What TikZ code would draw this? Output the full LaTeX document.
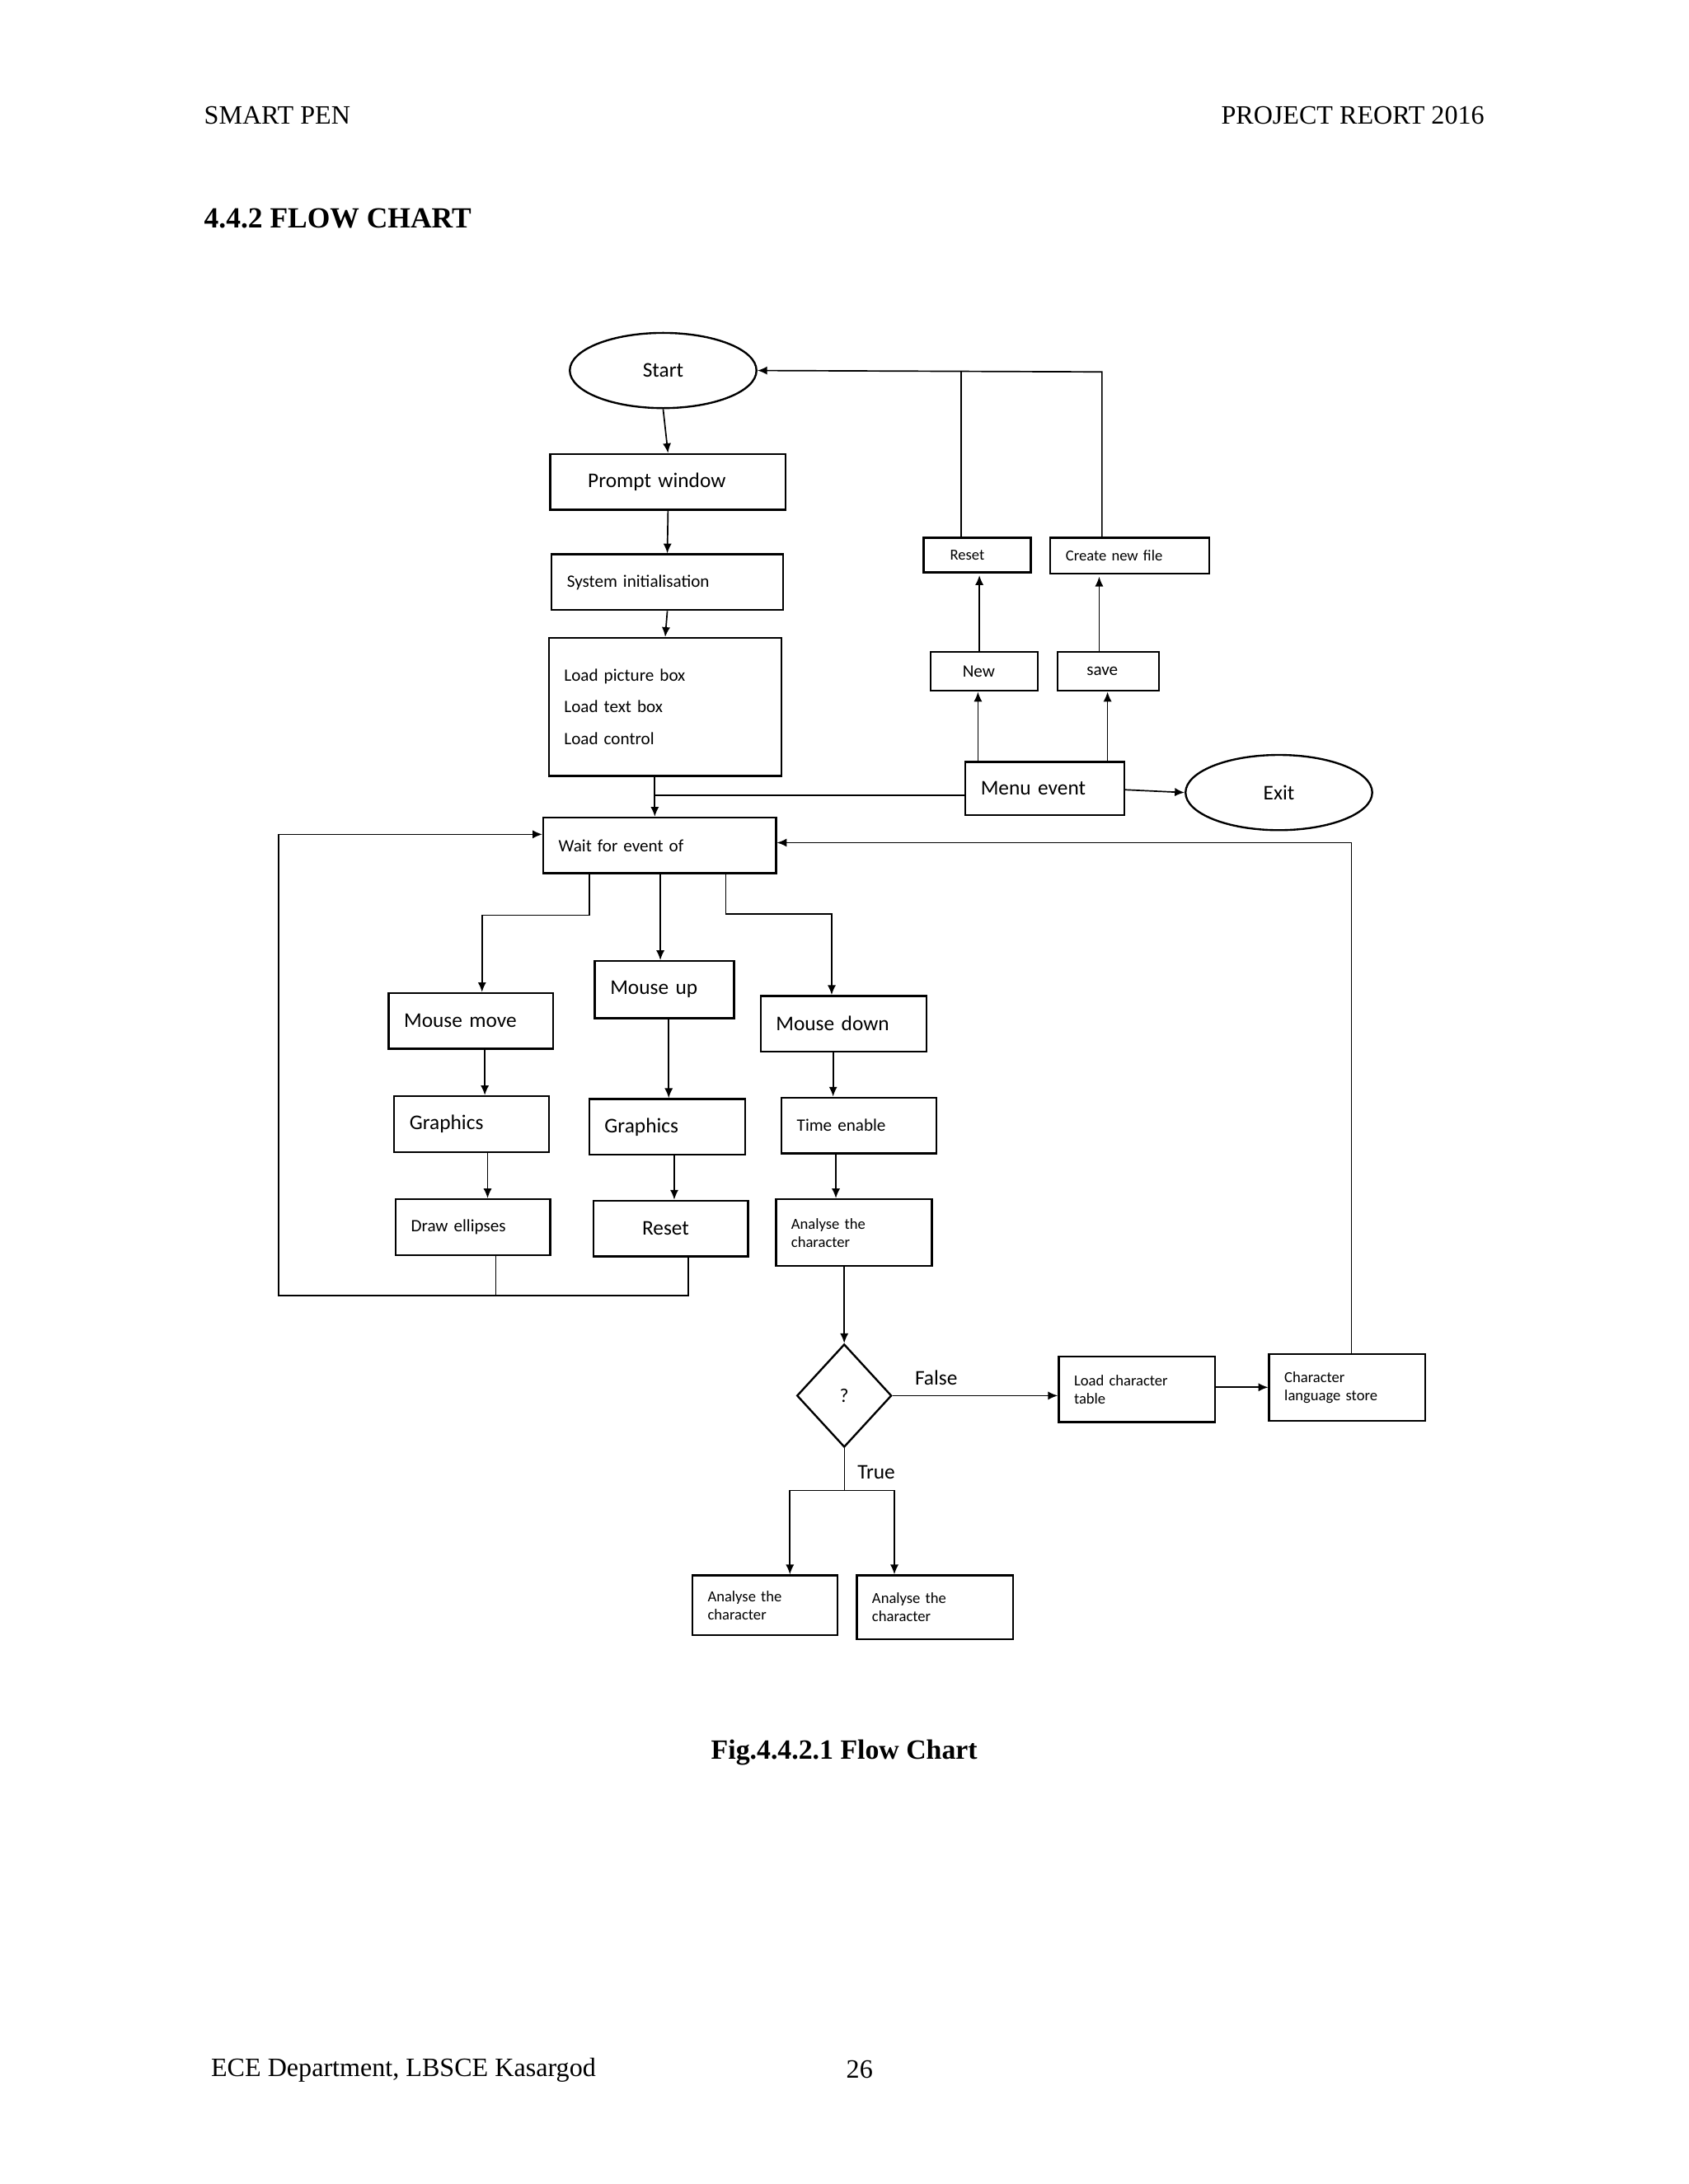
\documentclass[tikz,border=0pt]{standalone}
\usepackage{fontspec}
\setmainfont{Liberation Serif}
\newfontfamily\cf{Carlito}
\usetikzlibrary{shapes.geometric,arrows.meta}
\begin{document}
\begin{tikzpicture}[x=1pt,y=-1pt,
  box/.style={draw,line width=1.4pt,inner sep=0pt,font=\cf\fontsize{15}{17}\selectfont},
  sm/.style={font=\cf\fontsize{12.5}{17}\selectfont},
  xs/.style={font=\cf\fontsize{11}{13}\selectfont},
  ln/.style={line width=0.8pt},
  ar/.style={line width=1pt,-{Latex[length=7pt,width=6pt]}},
  hd/.style={font=\fontsize{19}{22}\selectfont}]
\newcommand\bx[7][]{\pgfmathsetmacro\ww{#5-#3}\pgfmathsetmacro\hh{#6-#4}\pgfmathsetmacro\tw{#5-#3-22}
  \node[box,#1,minimum width=\ww pt,minimum height=\hh pt,text width=\tw pt,align=left] (#2) at ({(#3+#5)/2},{(#4+#6)/2}) {#7};}
\useasboundingbox[fill=white] (0,0) rectangle (1212,1568);
\node[hd,anchor=west] (h1) at (143,83) {SMART PEN};
\node[hd,anchor=east] (h2) at (1069,83) {PROJECT REORT 2016};
\node[hd,anchor=west,font=\bfseries\fontsize{21}{24}\selectfont] (h3) at (143,157) {4.4.2 FLOW CHART};
\node[hd,font=\bfseries\fontsize{20}{24}\selectfont] (cap) at (606,1258) {Fig.4.4.2.1 Flow Chart};
\node[hd,anchor=west] (f1) at (148,1486) {ECE Department, LBSCE Kasargod};
\node[hd] (f2) at (617,1486) {26};
% nodes
\node[draw,ellipse,line width=1.4pt,minimum width=134pt,minimum height=54pt,font=\cf\fontsize{15}{17}\selectfont] (start) at (476,266) {Start};
\node[draw,ellipse,line width=1.4pt,minimum width=134pt,minimum height=54pt,font=\cf\fontsize{15}{17}\selectfont] (exit) at (918,569) {Exit};
\bx{prompt}{395}{326}{564}{366}{\hspace*{16pt}Prompt window}
\bx[sm]{sys}{396}{398}{562}{438}{System initialisation}
\bx[sm]{load}{394}{458}{561}{557}{Load picture box\\[6pt]Load text box\\[6pt]Load control}
\bx[sm]{wait}{390}{587}{557}{627}{Wait for event of}
\bx{menu}{693}{547}{807}{585}{Menu event}
\bx[sm]{new}{668}{468}{745}{496}{\hspace*{12pt}New}
\bx[sm]{save}{759}{468}{832}{496}{\hspace*{10pt}save}
\bx[xs]{reset}{663}{386}{740}{411}{\hspace*{8pt}Reset}
\bx[xs]{create}{754}{386}{868}{412}{Create new file}
\bx{mmove}{279}{713}{397}{753}{Mouse move}
\bx{mup}{427}{690}{527}{731}{Mouse up}
\bx{mdown}{546}{715}{665}{755}{Mouse down}
\bx{g1}{283}{787}{394}{827}{Graphics}
\bx{g2}{423}{789}{535}{829}{Graphics}
\bx[sm]{time}{561}{788}{672}{828}{Time enable}
\bx[sm]{draw}{284}{861}{395}{901}{Draw ellipses}
\bx{reset2}{426}{862}{537}{902}{\hspace*{24pt}Reset}
\bx[xs]{an1}{557}{861}{669}{909}{Analyse the\\character}
\node[draw,diamond,line width=1.4pt,minimum width=68pt,minimum height=74pt,inner sep=0pt,font=\cf\fontsize{14}{17}\selectfont] (dia) at (606,1002) {?};
\bx[xs]{lct}{760}{974}{872}{1021}{Load character\\table}
\bx[xs]{cls}{911}{972}{1023}{1020}{Character\\language store}
\bx[xs]{an2}{497}{1131}{601}{1174}{Analyse the\\character}
\bx[xs]{an3}{615}{1131}{727}{1177}{Analyse the\\character}
% connectors
\draw[ar] (start.south) -- (prompt.north);
\draw[ar] (prompt.south) -- (sys.north);
\draw[ar] (sys.south) -- (load.north);
\draw[ar] (load.south -| 470,0) -- (wait.north -| 470,0);
\draw[ln] (menu.west |- 0,571) -- (470,571);
\draw[ar] (menu.north -| 702,0) -- (new.south -| 702,0);
\draw[ar] (menu.north -| 795,0) -- (save.south -| 795,0);
\draw[ar] (new.north -| 703,0) -- (703,413);
\draw[ar] (save.north -| 789,0) -- (789,414);
\draw[ar] (menu.east |- 0,567) -- (exit.west);
\draw[ln] (reset.north -| 690,0) -- (690,267);
\draw[ar] (create.north -| 791,0) -- (791,267) -- (start.east);
\draw[ar] (wait.south -| 423,0) -- (423,657) -- (346,657) -- (mmove.north -| 346,0);
\draw[ar] (wait.south -| 474,0) -- (mup.north -| 474,0);
\draw[ar] (wait.south -| 521,0) -- (521,656) -- (597,656) -- (mdown.north -| 597,0);
\draw[ar] (mmove.south -| 348,0) -- (g1.north -| 348,0);
\draw[ar] (g1.south -| 350,0) -- (draw.north -| 350,0);
\draw[ar] (mup.south -| 480,0) -- (g2.north -| 480,0);
\draw[ar] (g2.south -| 484,0) -- (reset2.north -| 484,0);
\draw[ar] (mdown.south -| 598,0) -- (time.north -| 598,0);
\draw[ar] (time.south -| 600,0) -- (an1.north -| 600,0);
\draw[ln] (draw.south -| 356,0) -- (356,930);
\draw[ar] (reset2.south -| 494,0) -- (494,930) -- (200,930) -- (200,599) -- (wait.west |- 0,599);
\draw[ar] (an1.south -| 606,0) -- (dia.north);
\draw[ar] (dia.east) -- (lct.west |- dia.east);
\node[font=\cf\fontsize{15}{17}\selectfont] (fl) at (672,989) {False};
\draw[ar] (lct.east |- 0,996) -- (cls.west |- 0,996);
\draw[ar] (cls.north -| 970,0) -- (970,605) -- (wait.east |- 0,605);
\draw[ln] (dia.south) -- (606,1070);
\node[font=\cf\fontsize{15}{17}\selectfont] (tr) at (629,1057) {True};
\draw[ar] (567,1070) -- (an2.north -| 567,0);
\draw[ar] (567,1070) -- (642,1070) -- (an3.north -| 642,0);
\end{tikzpicture}
\end{document}
